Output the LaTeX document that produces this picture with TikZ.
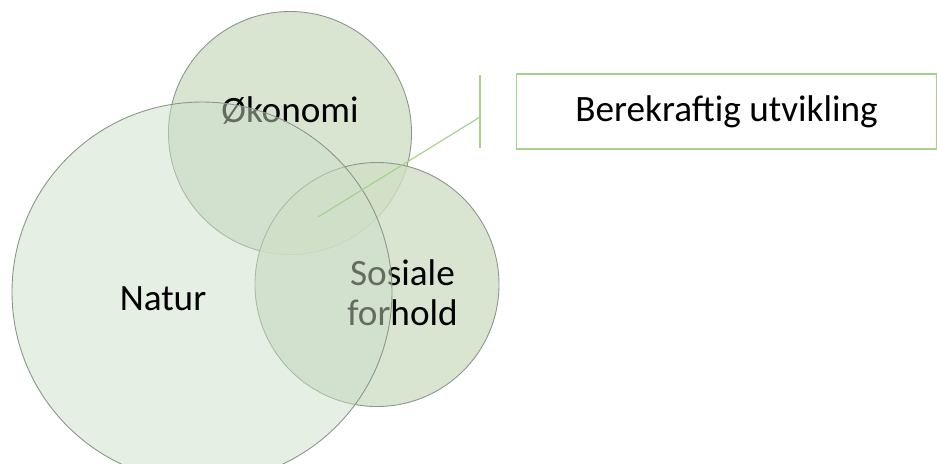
\documentclass[tikz,border=0pt]{standalone}
\usepackage{fontspec}
\setmainfont{Carlito}
\definecolor{ringfill}{RGB}{208,223,198}
\definecolor{naturfill}{RGB}{204,222,200}
\definecolor{ringline}{RGB}{140,150,140}
\definecolor{calloutgreen}{RGB}{169,209,142}

\begin{document}
\begin{tikzpicture}[x=0.5pt, y=-0.5pt,
        ring/.style={circle, draw=ringline, line width=0.45pt, fill=ringfill, fill opacity=0.8, inner sep=0pt},
        naturring/.style={circle, draw=ringline, line width=0.45pt, fill=naturfill, fill opacity=0.49, inner sep=0pt},
        venntext/.style={font=\fontsize{18.6}{20}\selectfont, inner sep=0pt, anchor=base, align=center},
        callout/.style={draw=calloutgreen, line width=0.6pt},
    ]
    \useasboundingbox (0,0) rectangle (937,463);
    \clip (0,0) rectangle (937,463);

    % the two upper rings
    \node[ring, minimum size=121.5pt] (okonomi) at (290,133) {};
    \node[ring, minimum size=122pt]   (sosiale) at (377,284.5) {};
    \node[venntext] (okonomitext) at (290,122) {Økonomi};
    \node[venntext] (sosialetext) at (402.5,325) {Sosiale\\forhold};

    % big ring on top
    \node[naturring, minimum size=190pt] (natur) at (202,292) {};
    \node[venntext] (naturtext) at (163,310) {Natur};

    % callout
    \coordinate (tip)    at (318,217);
    \coordinate (barmid) at (480,117);
    \coordinate (bartop) at (480,75);
    \coordinate (barbot) at (480,148);
    \draw[callout] (tip) -- (barmid);
    \draw[callout] (bartop) -- (barbot);
    \node[callout, minimum width=210pt, minimum height=37.5pt, inner sep=0pt,
          font=\fontsize{18.6}{20}\selectfont] (goal) at (726.5,111.5) {Berekraftig utvikling};
\end{tikzpicture}
\end{document}
